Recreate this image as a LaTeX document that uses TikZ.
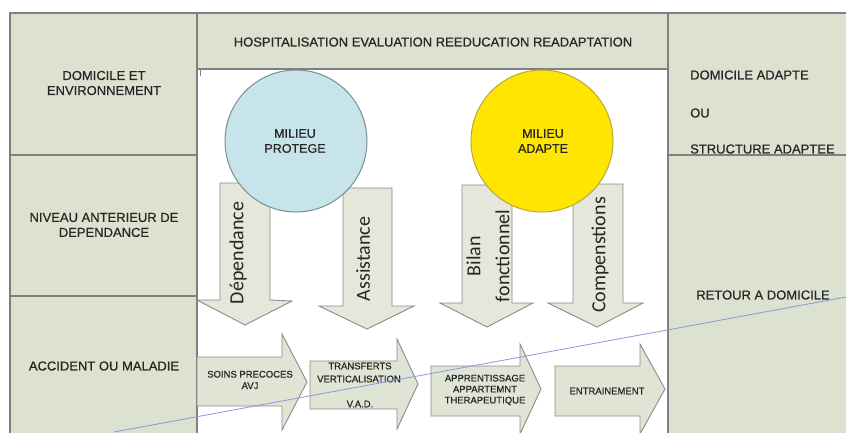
\documentclass[tikz,border=0pt]{standalone}
\usepackage{fontspec}
\setmainfont{Liberation Sans}
\newfontfamily\heavyfont{Liberation Sans}[FakeBold=0.6]
\newfontfamily\calfont{Carlito}
\definecolor{panelfill}{HTML}{DCE2CF}
\definecolor{panelline}{HTML}{808080}
\definecolor{arrowfill}{HTML}{E0E4D4}
\definecolor{darrowfill}{HTML}{E4E7DA}
\definecolor{arrowline}{HTML}{8C8C8C}
\definecolor{bluecirc}{HTML}{C6E4E9}
\definecolor{bluecircline}{HTML}{7C8E90}
\definecolor{yelcirc}{HTML}{FFE600}
\definecolor{yelcircline}{HTML}{B9A83A}
\definecolor{txt}{HTML}{262626}
\definecolor{bline}{HTML}{8A98D8}
\tikzset{
  panel/.style={draw=panelline, fill=panelfill, line width=1.1pt, inner sep=0pt, outer sep=0pt, anchor=north west},
  lbl/.style={text=txt, inner sep=0pt, align=center, font=\heavyfont\fontsize{13}{15}\selectfont},
  small/.style={text=txt, inner sep=0pt, align=center, font=\heavyfont\fontsize{9.5}{11.5}\selectfont},
  vlbl/.style={text=txt, inner sep=0pt, align=center, rotate=90, font=\calfont\fontsize{20}{29}\selectfont},
  circ/.style={circle, minimum size=142pt, inner sep=0pt, line width=1pt},
  rarrow/.style={draw=arrowline, fill=arrowfill, line width=0.9pt, line join=miter},
  darrow/.style={draw=arrowline, fill=darrowfill, line width=0.9pt, line join=miter},
  blueline/.style={draw=bline, line width=0.8pt}
}
\begin{document}
\begin{tikzpicture}[x=1pt,y=-1pt]
\useasboundingbox (0,0) rectangle (846,432);
\clip (0,0) rectangle (846,432);
\fill[white] (0,0) rectangle (846,432);
% panels
\node[panel, minimum width=187pt, minimum height=142pt] (p1) at (10,13) {};
\node[panel, minimum width=187pt, minimum height=141pt] (p2) at (10,155) {};
\node[panel, minimum width=187pt, minimum height=145pt] (p3) at (10,296) {};
\node[panel, minimum width=471pt, minimum height=56pt] (hd) at (197,13) {};
\node[panel, minimum width=190pt, minimum height=142pt] (r1) at (668,13) {};
\node[panel, minimum width=190pt, minimum height=290pt] (r2) at (668,155) {};
\draw[panelline, line width=0.8pt] (200,70) -- (200,76);
% texts in panels
\node[lbl] (t1) at (104,83) {DOMICILE ET\\ENVIRONNEMENT};
\node[lbl] (t2) at (104,225) {NIVEAU ANTERIEUR DE\\DEPENDANCE};
\node[lbl] (t3) at (104,366) {ACCIDENT OU MALADIE};
\node[lbl] (th) at (433,42) {HOSPITALISATION EVALUATION REEDUCATION READAPTATION};
\node[lbl, anchor=west] (r1a) at (690,75) {DOMICILE ADAPTE};
\node[lbl, anchor=west] (r1b) at (690,113) {OU};
\node[lbl, anchor=west] (r1c) at (690,149) {STRUCTURE ADAPTEE};
\node[lbl] (r2a) at (763,295) {RETOUR A DOMICILE};
% down arrows
\draw[darrow] (220,183) -- (270,183) -- (270,300) -- (292,301) -- (245,325) -- (197,300) -- (220,300) -- cycle;
\draw[darrow] (343,188) -- (392,188) -- (392,306) -- (414,306) -- (367,329) -- (319,306) -- (343,306) -- cycle;
\draw[darrow] (462,185) -- (512,185) -- (512,303) -- (533,303) -- (487,327) -- (440,303) -- (462,303) -- cycle;
\draw[darrow] (573,184) -- (623,184) -- (623,303) -- (643,303) -- (597,327) -- (548,303) -- (573,303) -- cycle;
\node[vlbl] (v1) at (238,253) {Dépendance};
\node[vlbl] (v2) at (363,259) {Assistance};
\node[vlbl] (v3) at (488,256) {Bilan\\fonctionnel};
\node[vlbl] (v4) at (600,255) {Compenstions};
% circles
\node[circ, draw=bluecircline, fill=bluecirc] (c1) at (296,141) {};
\node[circ, draw=yelcircline, fill=yelcirc] (c2) at (542,141) {};
\node[lbl, font=\heavyfont\fontsize{12.5}{15}\selectfont] (c1t) at (295,141) {MILIEU\\PROTEGE};
\node[lbl, font=\heavyfont\fontsize{12.5}{15}\selectfont] (c2t) at (543,141) {MILIEU\\ADAPTE};
% right arrows
\draw[rarrow] (197,357) -- (282,357) -- (282,334) -- (307,382) -- (282,430) -- (282,406) -- (197,406) -- cycle;
\draw[rarrow] (310,361) -- (397,361) -- (397,339) -- (418,384) -- (397,429) -- (397,409) -- (310,409) -- cycle;
\draw[rarrow] (431,366) -- (520,366) -- (520,344) -- (541,389) -- (520,434) -- (520,416) -- (431,416) -- cycle;
\draw[rarrow] (555,366) -- (640,366) -- (640,344) -- (665,389) -- (640,434) -- (640,416) -- (555,416) -- cycle;
\node[small] (a1) at (250,380) {SOINS PRECOCES\\AVJ};
\node[small] (a2a) at (360,366) {TRANSFERTS};
\node[small] (a2b) at (359,379) {VERTICALISATION};
\node[small] (a2c) at (360,404) {V.A.D.};
\node[small, font=\heavyfont\fontsize{9.5}{11}\selectfont] (a3) at (485,390) {APPRENTISSAGE\\APPARTEMNT\\THERAPEUTIQUE};
\node[small] (a4) at (607,391) {ENTRAINEMENT};
% blue line
\coordinate (ls) at (114,432);
\coordinate (le) at (846,297);
\draw[blueline] (ls) -- (le);
\end{tikzpicture}
\end{document}
